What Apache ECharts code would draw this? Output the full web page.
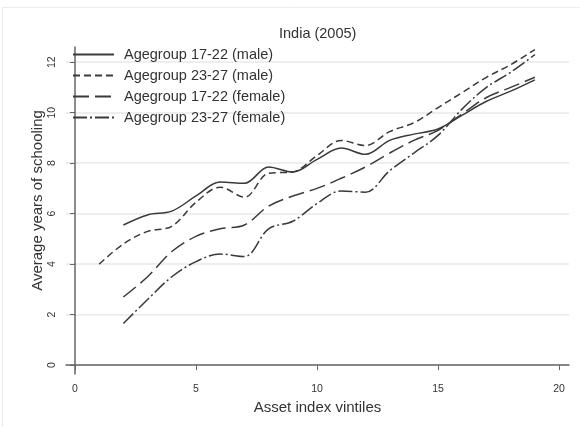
<!DOCTYPE html>
<html>
<head>
<meta charset="utf-8">
<script src="https://cdn.jsdelivr.net/npm/echarts@6/dist/echarts.min.js"></script>
<style>html,body{margin:0;padding:0;background:#fff;}#c{width:580px;height:427px;}</style>
</head>
<body>
<div id="c"></div>
<script>
const xTicks = [0, 5, 10, 15, 20];
const yTicks = [0, 2, 4, 6, 8, 10, 12];
const names = ['Agegroup 17-22 (male)', 'Agegroup 23-27 (male)', 'Agegroup 17-22 (female)', 'Agegroup 23-27 (female)'];
const xMale1722 = [2,3,4,5,6,7,8,9,10,11,12,13,14,15,16,17,18,19];
const male1722 = [5.55,5.95,6.1,6.7,7.25,7.2,7.85,7.65,8.15,8.6,8.35,8.9,9.15,9.35,9.9,10.45,10.85,11.3];
const xMale2327 = [1,2,3,4,5,6,7,8,9,10,11,12,13,14,15,16,17,18,19];
const male2327 = [4.0,4.8,5.3,5.5,6.45,7.05,6.65,7.6,7.65,8.3,8.9,8.7,9.25,9.6,10.2,10.8,11.4,11.9,12.5];
const xFem1722 = [2,3,4,5,6,7,8,9,10,11,12,13,14,15,16,17,18,19];
const fem1722 = [2.7,3.5,4.5,5.1,5.4,5.55,6.3,6.7,7.0,7.4,7.85,8.4,8.9,9.3,9.95,10.6,11.0,11.4];
const xFem2327 = [2,3,4,5,6,7,8,9,10,11,12,13,14,15,16,17,18,19];
const fem2327 = [1.65,2.6,3.5,4.1,4.4,4.3,5.4,5.7,6.4,6.9,6.85,7.7,8.4,9.1,10.15,11.0,11.6,12.3];

const dashes = ['solid', [7,4], [16,6], [14,3,2,3]];
const xs = [xMale1722, xMale2327, xFem1722, xFem2327];
const ys = [male1722, male2327, fem1722, fem2327];
const font = '"Liberation Sans", Arial, sans-serif';
const lineColor = '#3a3a3a';

const series = names.map((n, i) => ({
  name: n,
  type: 'line',
  data: xs[i].map((x, j) => [x, ys[i][j]]),
  showSymbol: false,
  symbol: 'none',
  smooth: 0.35,
  lineStyle: { color: lineColor, width: 1.5, type: dashes[i] },
  itemStyle: { color: lineColor },
  z: 3
}));

const chart = echarts.init(document.getElementById('c'), null, { renderer: 'canvas' });
chart.setOption({
  animation: false,
  backgroundColor: '#fff',
  textStyle: { fontFamily: font },
  graphic: [{
    type: 'rect', shape: { x: 2.5, y: 7.5, width: 600, height: 500 },
    style: { fill: 'none', stroke: '#ececec', lineWidth: 1 }, silent: true, z: -1
  }],
  title: {
    text: 'India (2005)', left: 274, top: 21,
    textStyle: { fontFamily: font, fontSize: 14.5, fontWeight: 'normal', color: '#333' }
  },
  legend: {
    orient: 'vertical', left: 72, top: 47, padding: 0,
    itemWidth: 41, itemHeight: 14, itemGap: 6,
    itemStyle: { color: 'transparent', borderColor: 'transparent', borderWidth: 0 },
    textStyle: { fontFamily: font, fontSize: 14.5, color: '#333', padding: [0, 0, 0, 5] },
    data: names
  },
  grid: { left: 66, right: 11, top: 47, bottom: 53 },
  xAxis: {
    type: 'value', min: -0.37, max: 20.41,
    name: 'Asset index vintiles', nameLocation: 'middle', nameGap: 21,
    nameTextStyle: { fontFamily: font, fontSize: 15, color: '#333' },
    axisLine: { show: true, lineStyle: { color: '#666', width: 1.5 } },
    axisTick: { show: true, length: 5, customValues: xTicks, lineStyle: { color: '#666' } },
    axisLabel: { customValues: xTicks, fontFamily: font, fontSize: 10.5, color: '#333', margin: 10 },
    splitLine: { show: false }
  },
  yAxis: {
    type: 'value', min: -0.35, max: 12.6,
    name: 'Average years of schooling', nameLocation: 'middle', nameGap: 21,
    nameMoveOverlap: false,
    nameTextStyle: { fontFamily: font, fontSize: 15, color: '#333', padding: [0, 0, 0, 20] },
    axisLine: { show: true, lineStyle: { color: '#666', width: 1.5 } },
    axisTick: { show: true, length: 5, customValues: yTicks, lineStyle: { color: '#666' } },
    axisLabel: { customValues: yTicks, rotate: 90, fontFamily: font, fontSize: 10.5, color: '#333', margin: 8 },
    splitLine: { show: true, customValues: yTicks, lineStyle: { color: '#e8e8e8', width: 1.5 } }
  },
  series: series
});
</script>
</body>
</html>
